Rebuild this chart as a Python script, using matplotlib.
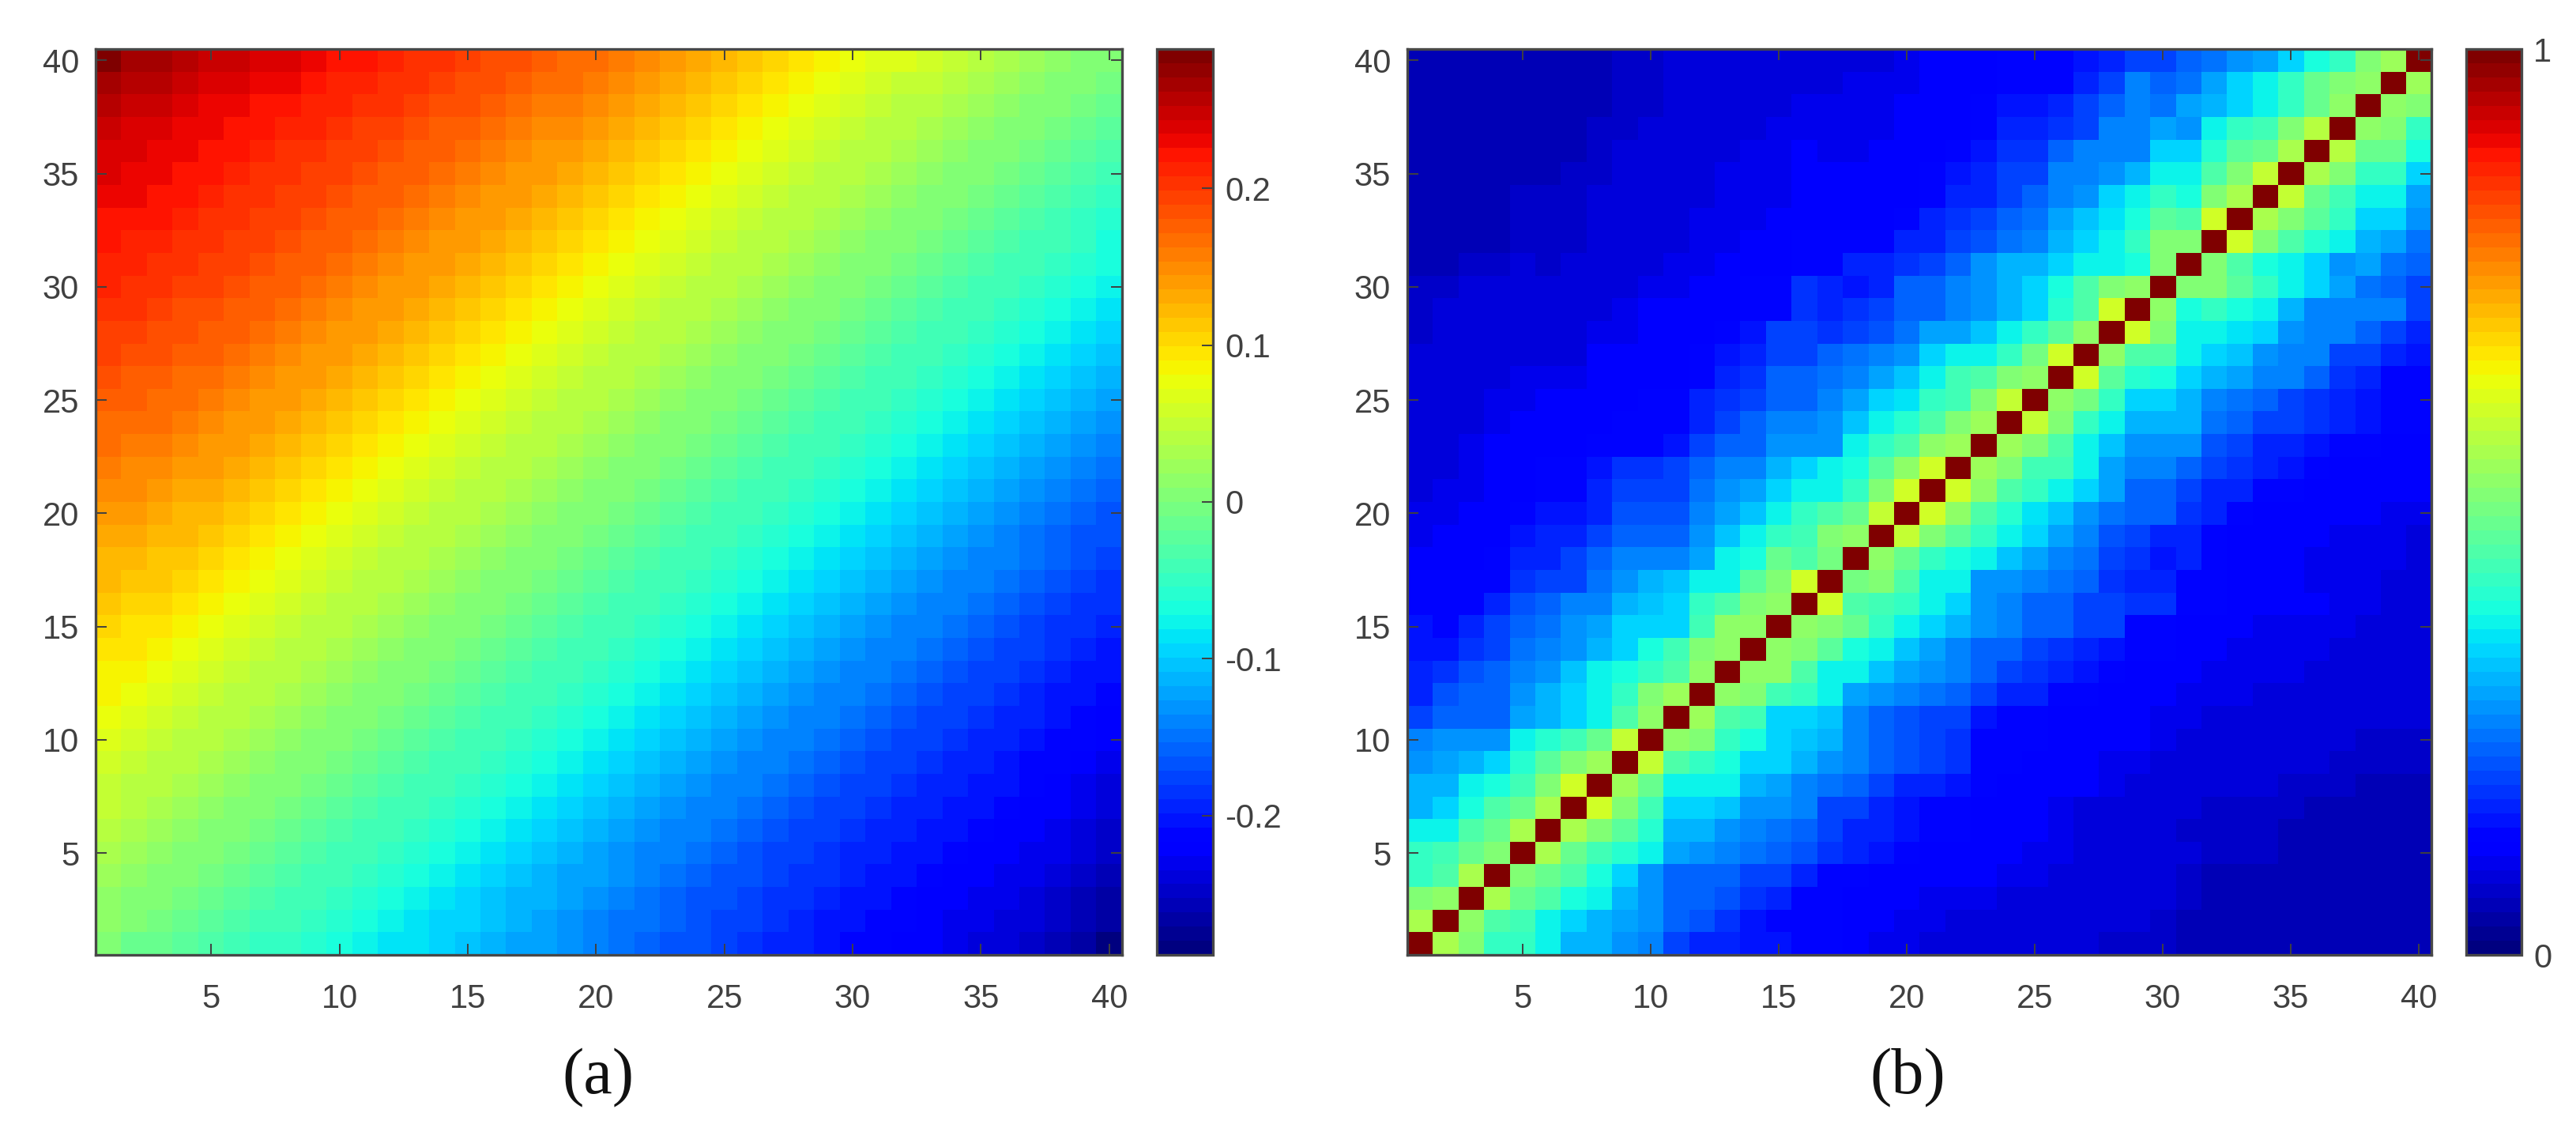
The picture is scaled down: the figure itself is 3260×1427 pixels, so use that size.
import numpy as np
import matplotlib
matplotlib.use('Agg')
import matplotlib.pyplot as plt

W, H = 3260, 1427
N = 40
TICKS = [5, 10, 15, 20, 25, 30, 35, 40]
TEXT = '#404040'

cbar_a_ticks = [-0.2, -0.1, 0, 0.1, 0.2]
cbar_a_labels = ['-0.2', '-0.1', '0', '0.1', '0.2']
cbar_b_ticks = [0, 1]
cbar_b_labels = ['0', '1']
panel_labels = ['(a)', '(b)']

# panel a, thousandths, one list per column x: cells y = x+1 .. 40 (mirrored with opposite sign below the diagonal)
a_cols = [
    [10,17,24,31,38,46,53,61,69,76,83,90,97,104,111,118,125,133,141,149,156,163,170,177,184,191,197,203,209,215,220,225,230,235,240,247,255,266,286],
    [9,16,23,30,38,45,53,61,70,77,85,92,99,107,114,121,129,137,145,153,160,166,173,180,186,193,199,205,211,216,222,227,232,237,243,250,258,270],
    [8,15,23,30,38,45,53,62,71,78,86,94,101,109,116,124,132,140,148,156,163,169,175,182,188,195,200,206,212,217,223,228,233,239,245,253,265],
    [8,15,23,30,38,45,53,62,71,79,87,95,103,110,118,126,134,142,150,158,165,171,177,183,189,196,201,206,212,218,223,228,234,240,248,259],
    [8,15,23,30,38,45,53,62,72,80,88,96,104,112,120,128,136,144,152,160,167,173,179,185,191,197,202,207,212,218,223,228,234,242,252],
    [8,15,23,30,38,45,53,62,72,80,88,96,104,112,120,128,136,144,152,160,167,173,179,185,191,197,202,207,212,218,223,229,237,246],
    [8,15,23,30,38,45,53,62,72,80,88,96,104,112,120,128,136,144,152,160,167,173,179,185,191,197,202,207,212,218,224,232,240],
    [8,15,23,30,38,45,53,62,72,80,88,96,104,112,120,128,136,144,152,160,167,173,179,185,191,197,202,207,213,220,227,235],
    [8,15,23,30,38,45,53,62,72,80,88,96,104,112,120,128,136,144,152,160,167,173,179,185,191,197,202,208,214,222,230],
    [8,15,23,30,38,45,53,62,72,80,88,96,104,112,120,128,136,144,152,160,167,173,179,185,191,197,203,209,216,224],
    [8,15,23,30,38,45,53,62,72,80,88,96,104,112,120,128,136,144,152,160,167,173,179,185,191,197,204,211,218],
    [8,15,23,30,38,45,53,62,72,80,88,96,104,112,120,128,136,144,152,160,167,173,179,185,192,199,206,213],
    [8,15,23,30,38,45,53,62,72,80,88,96,104,112,120,128,136,144,152,160,167,173,179,186,193,200,207],
    [8,15,23,30,38,45,53,62,72,80,88,96,104,112,120,128,136,144,152,160,167,173,180,187,194,201],
    [8,15,23,30,38,45,53,62,72,80,88,96,104,112,120,128,136,144,152,160,167,174,181,188,195],
    [8,15,23,30,38,45,53,62,72,80,88,96,104,112,120,128,136,144,152,160,168,175,182,189],
    [8,15,23,30,38,45,53,62,72,80,88,96,104,112,120,128,136,144,152,161,169,176,183],
    [8,15,23,30,38,45,53,62,72,80,88,96,104,112,120,128,136,144,153,162,170,177],
    [8,15,23,30,38,45,53,62,72,80,88,96,104,112,120,128,136,145,154,163,171],
    [8,15,23,30,38,45,53,62,72,80,88,96,104,112,120,128,137,146,155,164],
    [8,15,23,30,38,45,53,62,72,80,88,96,104,112,120,129,138,147,156],
    [8,15,23,30,38,45,53,62,72,80,88,96,104,112,121,130,139,148],
    [8,15,23,30,38,45,53,62,72,80,88,96,104,113,122,131,140],
    [8,15,23,30,38,45,53,62,72,80,88,96,105,114,123,132],
    [8,15,23,30,38,45,53,62,72,80,88,97,106,115,124],
    [8,15,23,30,38,45,53,62,72,80,89,98,107,116],
    [8,15,23,30,38,45,53,62,72,81,90,99,108],
    [8,15,23,30,38,45,53,62,72,81,90,99],
    [8,15,23,30,38,45,53,62,72,81,90],
    [8,15,23,30,38,45,53,62,72,81],
    [8,15,23,30,38,45,53,62,72],
    [8,15,23,30,38,45,54,64],
    [8,15,23,30,38,46,56],
    [8,15,23,30,39,48],
    [8,15,23,31,40],
    [8,15,24,32],
    [8,16,25],
    [9,17],
    [9],
]

# panel b, hundredths of the colour range, one list per row y: cells x = y+1 .. 40 (mirrored across the diagonal)
b_rows = [
    [55,50,42,42,37,31,30,28,26,19,17,16,15,15,14,13,11,10,10,9,9,8,8,8,8,8,7,7,7,6,6,5,5,5,5,5,5,5,6],
    [52,44,43,37,33,31,29,27,23,21,18,15,14,14,13,11,11,10,10,9,9,8,8,8,8,8,8,7,6,6,6,5,5,5,5,5,5,5],
    [55,47,45,39,37,30,28,23,22,21,18,17,14,13,11,11,11,10,10,10,9,9,8,8,8,8,8,7,6,6,6,5,5,5,5,5,5],
    [50,47,44,38,33,28,23,23,22,20,19,16,14,14,12,12,11,11,11,10,10,9,9,8,8,8,7,6,6,6,6,6,5,5,5,5],
    [55,47,43,40,37,29,28,26,24,22,21,18,17,15,14,12,12,11,11,10,10,9,8,8,8,8,7,7,7,6,5,5,5,5,5],
    [55,50,46,40,31,30,28,26,24,22,19,17,16,15,13,13,12,11,11,10,9,9,8,8,7,7,7,7,6,6,5,5,5,5],
    [60,50,43,34,33,32,28,28,26,20,19,16,15,14,13,12,11,11,10,9,9,8,8,8,7,7,7,7,6,6,5,5,5],
    [54,47,37,37,37,30,29,25,24,22,20,17,16,15,13,12,12,11,11,10,9,8,8,8,8,8,7,7,7,6,6,6],
    [58,44,42,39,34,33,30,28,25,23,21,20,18,13,13,12,11,11,10,10,9,9,8,8,8,8,8,7,7,7,7],
    [52,50,42,38,34,32,31,25,23,21,20,18,14,13,13,12,12,11,11,10,9,9,8,8,8,8,8,7,7,7],
    [54,44,43,34,33,32,25,23,21,20,19,15,13,13,12,12,11,11,10,10,9,9,8,8,8,8,8,8,8],
    [52,50,43,41,37,29,27,26,24,22,20,17,16,14,14,12,11,11,10,10,10,9,9,8,8,8,8,8],
    [53,52,44,37,37,32,29,27,25,22,19,18,16,15,13,12,12,11,10,10,10,10,9,9,8,8,8],
    [52,50,46,38,36,32,29,26,23,22,20,18,16,15,13,13,11,11,10,10,10,10,9,9,8,8],
    [52,50,47,42,37,33,30,27,25,23,22,19,19,13,13,12,11,11,10,10,10,10,9,9,9],
    [60,44,43,41,37,33,27,25,23,23,20,20,18,18,13,13,12,12,11,11,10,10,9,9],
    [49,50,44,37,36,28,27,25,24,22,18,17,16,13,13,12,11,11,10,10,10,9,9],
    [53,47,42,38,37,32,29,25,24,19,18,15,17,13,12,11,11,10,10,10,10,9],
    [59,50,46,41,37,33,29,26,21,20,17,17,14,12,11,11,11,10,10,10,9],
    [60,53,44,40,35,32,28,24,22,22,18,16,14,12,12,11,11,11,10,10],
    [60,52,44,41,37,33,29,23,23,20,17,16,14,14,12,12,11,11,11],
    [54,50,43,43,37,29,26,26,22,19,18,16,15,14,12,12,11,11],
    [54,50,44,37,32,28,28,27,21,19,17,16,15,14,13,12,12],
    [58,50,42,37,31,31,30,24,22,20,19,18,16,15,13,13],
    [52,49,41,33,33,31,26,24,23,20,18,16,15,14,13],
    [60,46,40,38,34,31,29,26,25,23,18,16,14,14],
    [52,44,44,36,33,32,28,26,25,20,19,17,15],
    [60,50,37,37,35,33,28,26,26,22,20,16],
    [52,38,42,38,36,31,26,26,26,25,19],
    [50,50,46,41,37,33,29,24,22,19],
    [50,45,39,36,33,27,29,24,23],
    [60,50,44,40,37,30,29,24],
    [55,50,46,41,33,33,28],
    [58,47,43,36,36,29],
    [56,50,41,41,34],
    [57,48,47,38],
    [52,50,42],
    [53,50],
    [54],
]

A = np.zeros((N, N))
for i, col in enumerate(a_cols):
    A[i + 1:, i] = np.array(col) / 1000
    A[i, i + 1:] = -np.array(col) / 1000

B = np.eye(N)
for i, row in enumerate(b_rows):
    B[i, i + 1:] = np.array(row) / 100
    B[i + 1:, i] = np.array(row) / 100

plt.rcParams['font.family'] = ['Liberation Sans', 'DejaVu Sans']


def px_rect(left, right, top, bottom):
    return [left / W, 1 - bottom / H, (right - left) / W, (bottom - top) / H]


def style_frame(ax):
    for s in ax.spines.values():
        s.set_color('#484848')
        s.set_linewidth(2.4)


def draw_panel(data, vmin, vmax, ax_x, cb_x, cb_ticks, cb_labels):
    ax = fig.add_axes(px_rect(ax_x[0], ax_x[1], 62, 1208))
    im = ax.imshow(data, origin='lower', aspect='auto', cmap=plt.get_cmap('jet', 64),
                   vmin=vmin, vmax=vmax, extent=[0.5, 40.5, 0.5, 40.5], interpolation='nearest')
    ax.set_xticks(TICKS)
    ax.set_yticks(TICKS)
    ax.tick_params(axis='both', direction='in', top=True, right=True, length=10, width=1.4,
                   color='#404040', labelsize=30, labelcolor=TEXT)
    ax.tick_params(axis='x', pad=26)
    ax.tick_params(axis='y', pad=15)
    style_frame(ax)

    cax = fig.add_axes(px_rect(cb_x[0], cb_x[1], 62, 1208))
    cb = fig.colorbar(im, cax=cax)
    cb.set_ticks(cb_ticks)
    cb.set_ticklabels(cb_labels)
    cax.tick_params(axis='y', direction='in', right=True, left=False, length=10, width=1.4,
                    color='#404040', labelsize=30, labelcolor=TEXT, pad=11)
    cb.outline.set_edgecolor('#484848')
    cb.outline.set_linewidth(2.4)


fig = plt.figure(figsize=(W / 100, H / 100), dpi=100)
draw_panel(A, -0.289, 0.289, (121, 1420), (1464, 1535), cbar_a_ticks, cbar_a_labels)
draw_panel(B, 0, 1, (1781, 3077), (3121, 3191), cbar_b_ticks, cbar_b_labels)

fig.text(757 / W, 1 - 1364 / H, panel_labels[0], ha='center', va='center', fontsize=59,
         family='Liberation Serif', color='#111111')
fig.text(2414 / W, 1 - 1364 / H, panel_labels[1], ha='center', va='center', fontsize=59,
         family='Liberation Serif', color='#111111')

fig.savefig('out.png', dpi=100)
